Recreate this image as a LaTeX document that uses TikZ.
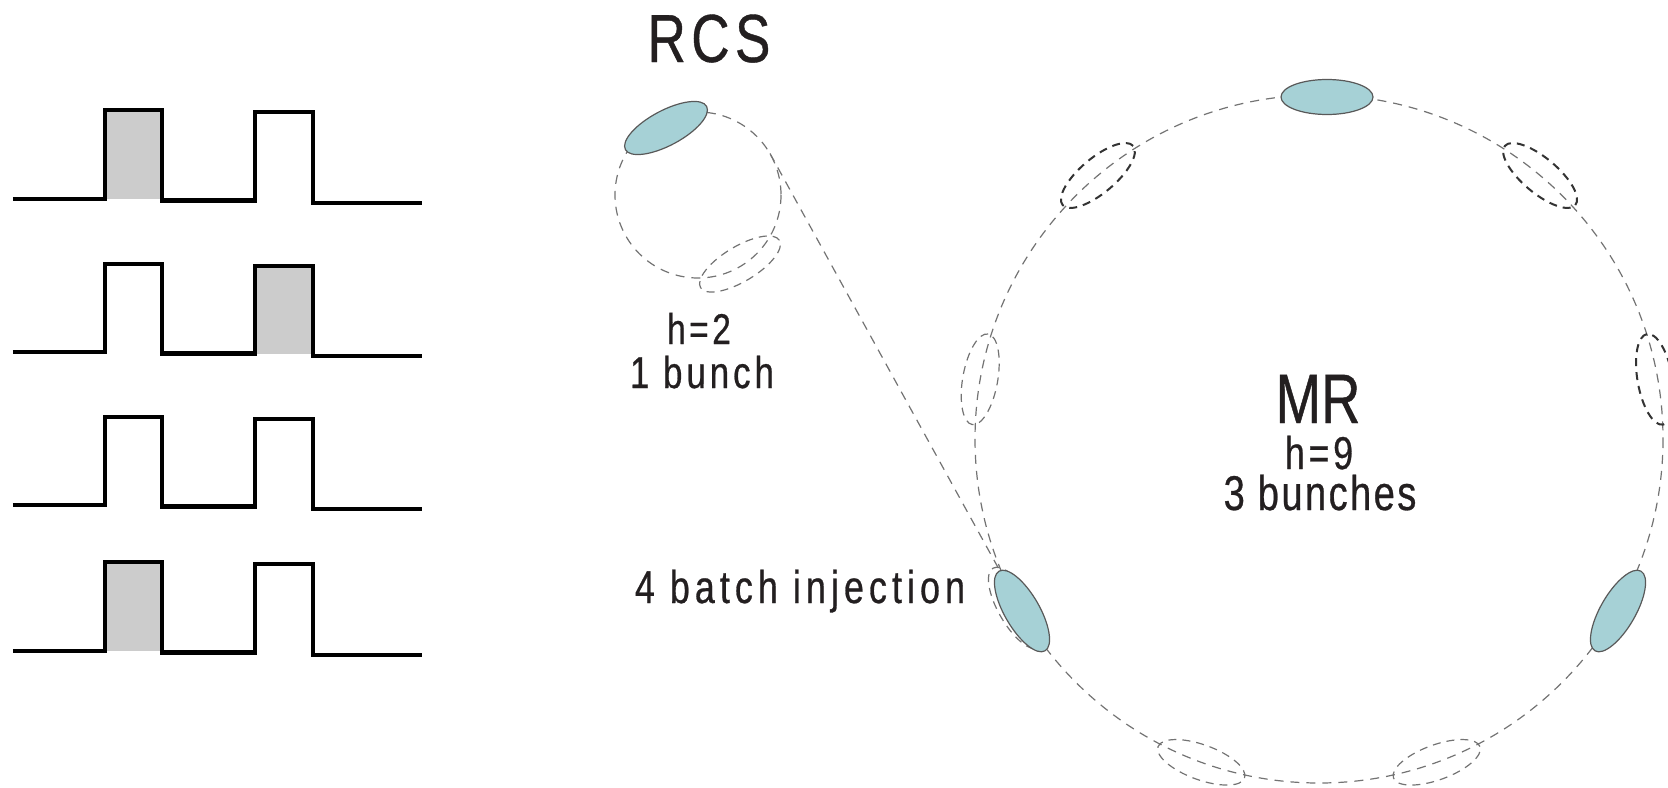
\documentclass[tikz,border=0pt]{standalone}
\usepackage{fontspec}
\setmainfont{Liberation Sans}
\newfontfamily\lf[FakeStretch=0.78,FakeBold=0.6]{Liberation Sans}
\usetikzlibrary{shapes.geometric}
\definecolor{bunchfill}{RGB}{166,209,214}
\definecolor{inkc}{RGB}{35,31,32}
\newcommand{\lbl}[3]{{\lf\addfontfeatures{LetterSpace=#2}\fontsize{#1}{#1}\selectfont #3}}
\begin{document}
\begin{tikzpicture}[x=0.5pt,y=-0.5pt,
  pulse/.style={line width=2.25pt, draw=black, line join=miter},
  shadebox/.style={fill=black!20},
  ring/.style={draw=black!55, line width=0.6pt, dash pattern=on 4.5pt off 3.5pt},
  bunch/.style={ellipse, draw=black!65, line width=0.6pt, fill=bunchfill, minimum width=46pt, minimum height=17.5pt, inner sep=0pt},
  ghost/.style={ellipse, draw=black!55, line width=0.6pt, dash pattern=on 4pt off 3pt, minimum width=46pt, minimum height=17.5pt, inner sep=0pt},
  ghostd/.style={ghost, draw=black!80, line width=1pt},
  lab/.style={inner sep=0pt, anchor=base, text=inkc}]
\useasboundingbox (0,0) rectangle (1668,787);

% ---- pulse trains ----
\fill[shadebox] (105,110) rectangle (162,199);
\fill[shadebox] (255,266) rectangle (313,353.5);
\fill[shadebox] (105,562) rectangle (162,651);
\foreach \b/\t in {199/110, 352/264, 505/417, 651/562}{
  \draw[pulse] (12.8,\b) -- (105,\b) -- (105,\t) -- (162,\t) -- (162,\b+1.5)
     -- (255,\b+1.5) -- (255,\t+2) -- (313,\t+2) -- (313,\b+4) -- (422,\b+4);
}

% ---- rings ----
\draw[ring] (698,195) circle[radius=83];
\draw[ring] (1319,439) circle[radius=344];

% ---- RCS bunches ----
\node[ghost, rotate=31] (rcsg) at (740,264) {};
\node[bunch, rotate=28] (rcsb) at (666,128) {};

% ---- MR empty buckets ----
\node[ghostd, rotate=40]  (g130) at (1097.9,175.5) {};
\node[ghost,  rotate=80]  (g170) at (980.2,379.3) {};
\node[ghost,  rotate=-20] (g250) at (1201.3,762.3) {};
\node[ghost,  rotate=20]  (g290) at (1436.7,762.3) {};
\node[ghostd, rotate=100] (g10)  at (1655,379.3) {};
\node[ghostd, rotate=-40] (g50)  at (1540.1,175.5) {};
\node[ghost,  rotate=-60] (ginj) at (1016,608) {};

% ---- MR bunches ----
\node[bunch] (top) at (1327,97) {};
\node[bunch, rotate=-60] (inj) at (1022,611) {};
\node[bunch, rotate=60] (rgt) at (1618,611) {};

% ---- transfer line ----
\coordinate (rcsT) at (770,153.5);
\draw[ring] (rcsT) -- (inj);

% ---- labels ----
\node[lab] (trcs) at (709,62) {\lbl{34}{8}{RCS}};
\node[lab] (th2) at (699,344) {\lbl{21.5}{8}{h=2}};
\node[lab] (t1b) at (702,388) {\lbl{22.3}{9}{1 bunch}};
\node[lab] (tinj) at (800,603) {\lbl{23}{11}{4 batch injection}};
\node[lab] (tmr) at (1318,423) {\lbl{35}{0}{MR}};
\node[lab] (th9) at (1319,469) {\lbl{23}{8}{h=9}};
\node[lab] (t3b) at (1320,510) {\lbl{24.4}{5}{3 bunches}};
\end{tikzpicture}
\end{document}
